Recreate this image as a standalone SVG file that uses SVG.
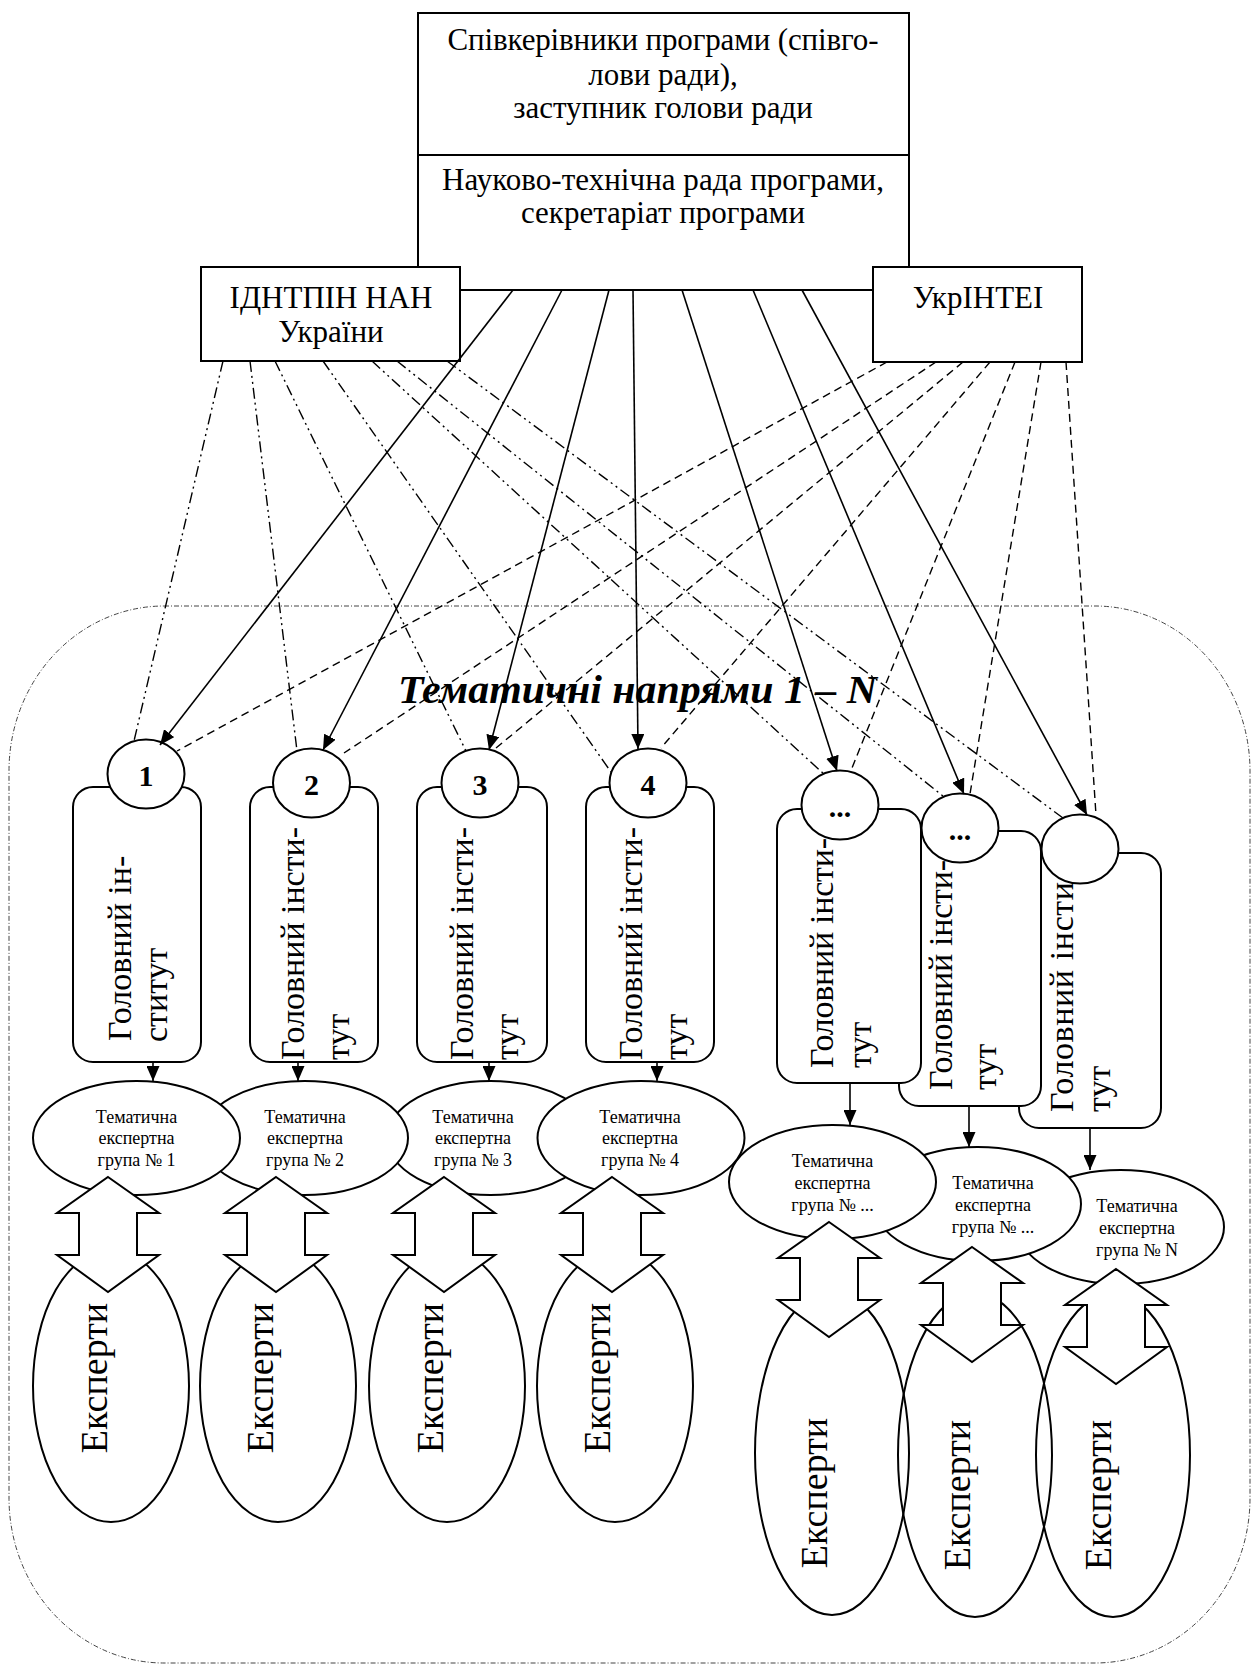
<svg xmlns="http://www.w3.org/2000/svg" width="1252" height="1667" viewBox="0 0 1252 1667">
<defs>
<marker id="ah" markerUnits="userSpaceOnUse" markerWidth="15" markerHeight="13" refX="15" refY="6.5" orient="auto">
<path d="M0,0 L15,6.5 L0,13 z" fill="#000"/>
</marker>
<style>
.t{font-family:"Liberation Serif","Times New Roman",serif;fill:#000}
.bx{fill:#fff;stroke:#000;stroke-width:2}
.el{fill:#fff;stroke:#000;stroke-width:2}
.ex{fill:none;stroke:#000;stroke-width:2}
.da{fill:#fff;stroke:#000;stroke-width:2;stroke-linejoin:miter}
.sol{fill:none;stroke:#000;stroke-width:1.6;marker-end:url(#ah)}
.ddt{fill:none;stroke:#000;stroke-width:1.4;stroke-dasharray:11 4 2 4 2 4}
.dsh{fill:none;stroke:#000;stroke-width:1.4;stroke-dasharray:8 5}
.top{font-size:31px;text-anchor:middle}
.grp{font-size:18px;text-anchor:middle}
.inst{font-size:34px}
.exp{font-size:38px;text-anchor:middle}
.num{font-size:30px;font-weight:bold;text-anchor:middle}
</style>
</defs>
<rect id="container" x="9" y="606" width="1241" height="1057" rx="155" ry="165" fill="none" stroke="#444" stroke-width="1" stroke-dasharray="5 2 1 2"/>
<text id="title" class="t" x="398" y="703" font-size="40" font-weight="bold" font-style="italic" textLength="479" lengthAdjust="spacingAndGlyphs">Тематичні напрями 1 – N</text>

<g id="head">
<rect class="bx" x="418" y="13" width="491" height="277"/>
<line x1="418" y1="155" x2="909" y2="155" stroke="#000" stroke-width="2"/>
<text class="t top" x="663" y="50" textLength="431" lengthAdjust="spacing">Співкерівники програми (співго-</text>
<text class="t top" x="663" y="85">лови ради),</text>
<text class="t top" x="663" y="118">заступник голови ради</text>
<text class="t top" x="663" y="190" textLength="442" lengthAdjust="spacing">Науково-технічна рада програми,</text>
<text class="t top" x="663" y="223">секретаріат програми</text>
</g>
<g id="idntpin">
<rect class="bx" x="201" y="267" width="259" height="94"/>
<text class="t top" x="331" y="308">ІДНТПІН НАН</text>
<text class="t top" x="331" y="342">України</text>
</g>
<g id="ukrintei">
<rect class="bx" x="873" y="267" width="209" height="95"/>
<text class="t top" x="978" y="308">УкрІНТЕІ</text>
</g>

<g id="inst7">
<rect class="bx" x="1019" y="853" width="142" height="275" rx="20"/>
<text class="t inst" transform="translate(1073,1112) rotate(-90)" textLength="230" lengthAdjust="spacing">Головний  інсти</text>
<text class="t inst" transform="translate(1110,1112) rotate(-90)">тут</text>
<ellipse class="el" cx="1080" cy="849" rx="38.5" ry="34.5"/>
</g>
<g id="inst6">
<rect class="bx" x="899" y="831" width="142" height="275" rx="20"/>
<text class="t inst" transform="translate(952,1090) rotate(-90)" textLength="230" lengthAdjust="spacing">Головний  інсти-</text>
<text class="t inst" transform="translate(996,1090) rotate(-90)">тут</text>
<ellipse class="el" cx="960" cy="828" rx="38.5" ry="34.5"/>
<text class="t num" x="960" y="840">...</text>
</g>
<g id="inst5">
<rect class="bx" x="777" y="809" width="144" height="274" rx="20"/>
<text class="t inst" transform="translate(833,1068) rotate(-90)" textLength="230" lengthAdjust="spacing">Головний  інсти-</text>
<text class="t inst" transform="translate(871,1068) rotate(-90)">тут</text>
<ellipse class="el" cx="840" cy="805" rx="38.5" ry="34.5"/>
<text class="t num" x="840" y="817">...</text>
</g>
<g id="inst1">
<rect class="bx" x="73" y="787" width="128" height="275" rx="20"/>
<text class="t inst" transform="translate(131,1041) rotate(-90)">Головний ін-</text>
<text class="t inst" transform="translate(167,1042) rotate(-90)">ститут</text>
<ellipse class="el" cx="146" cy="774" rx="38.5" ry="34.5"/>
<text class="t num" x="146" y="786">1</text>
</g>
<g id="inst2">
<rect class="bx" x="250" y="787" width="128" height="275" rx="20"/>
<text class="t inst" transform="translate(304,1060) rotate(-90)" textLength="233" lengthAdjust="spacing">Головний  інсти-</text>
<text class="t inst" transform="translate(349,1060) rotate(-90)">тут</text>
<ellipse class="el" cx="311.5" cy="783" rx="38.5" ry="34.5"/>
<text class="t num" x="311.5" y="795">2</text>
</g>
<g id="inst3">
<rect class="bx" x="417" y="787" width="130" height="275" rx="20"/>
<text class="t inst" transform="translate(473,1060) rotate(-90)" textLength="233" lengthAdjust="spacing">Головний  інсти-</text>
<text class="t inst" transform="translate(518,1060) rotate(-90)">тут</text>
<ellipse class="el" cx="480" cy="783" rx="38.5" ry="34.5"/>
<text class="t num" x="480" y="795">3</text>
</g>
<g id="inst4">
<rect class="bx" x="586" y="787" width="128" height="275" rx="20"/>
<text class="t inst" transform="translate(642,1060) rotate(-90)" textLength="233" lengthAdjust="spacing">Головний  інсти-</text>
<text class="t inst" transform="translate(687,1060) rotate(-90)">тут</text>
<ellipse class="el" cx="648" cy="783" rx="38.5" ry="34.5"/>
<text class="t num" x="648" y="795">4</text>
</g>

<g id="groups">
<g id="grp7"><ellipse class="el" cx="1120.5" cy="1227" rx="103.5" ry="57"/>
<text class="t grp" x="1137" y="1212">Тематична</text><text class="t grp" x="1137" y="1234">експертна</text><text class="t grp" x="1137" y="1256">група № N</text></g>
<g id="grp6"><ellipse class="el" cx="977.5" cy="1204" rx="103.5" ry="57"/>
<text class="t grp" x="993" y="1189">Тематична</text><text class="t grp" x="993" y="1211">експертна</text><text class="t grp" x="993" y="1233">група № ...</text></g>
<g id="grp5"><ellipse class="el" cx="832.5" cy="1182" rx="103.5" ry="57"/>
<text class="t grp" x="832.5" y="1167">Тематична</text><text class="t grp" x="832.5" y="1189">експертна</text><text class="t grp" x="832.5" y="1211">група № ...</text></g>
<g id="grp3"><ellipse class="el" cx="490.5" cy="1138" rx="103.5" ry="57"/>
<text class="t grp" x="473" y="1123">Тематична</text><text class="t grp" x="473" y="1144">експертна</text><text class="t grp" x="473" y="1166">група № 3</text></g>
<g id="grp4"><ellipse class="el" cx="641" cy="1138" rx="103.5" ry="57"/>
<text class="t grp" x="640" y="1123">Тематична</text><text class="t grp" x="640" y="1144">експертна</text><text class="t grp" x="640" y="1166">група № 4</text></g>
<g id="grp2"><ellipse class="el" cx="304.5" cy="1138" rx="103.5" ry="57"/>
<text class="t grp" x="305" y="1123">Тематична</text><text class="t grp" x="305" y="1144">експертна</text><text class="t grp" x="305" y="1166">група № 2</text></g>
<g id="grp1"><ellipse class="el" cx="136.5" cy="1138" rx="103.5" ry="57"/>
<text class="t grp" x="136.5" y="1123">Тематична</text><text class="t grp" x="136.5" y="1144">експертна</text><text class="t grp" x="136.5" y="1166">група № 1</text></g>
</g>

<g id="experts">
<g id="exp1"><ellipse class="ex" cx="111" cy="1386" rx="78" ry="136"/><text class="t exp" transform="translate(107,1378) rotate(-90)">Експерти</text></g>
<g id="exp2"><ellipse class="ex" cx="278" cy="1386" rx="78" ry="136"/><text class="t exp" transform="translate(273,1378) rotate(-90)">Експерти</text></g>
<g id="exp3"><ellipse class="ex" cx="447" cy="1386" rx="78" ry="136"/><text class="t exp" transform="translate(443,1378) rotate(-90)">Експерти</text></g>
<g id="exp4"><ellipse class="ex" cx="615" cy="1386" rx="78" ry="136"/><text class="t exp" transform="translate(610,1378) rotate(-90)">Експерти</text></g>
<g id="exp5"><ellipse class="ex" cx="832" cy="1453" rx="77" ry="162"/><text class="t exp" transform="translate(827,1493) rotate(-90)">Експерти</text></g>
<g id="exp6"><ellipse class="ex" cx="975" cy="1455" rx="77" ry="162"/><text class="t exp" transform="translate(970,1495) rotate(-90)">Експерти</text></g>
<g id="exp7"><ellipse class="ex" cx="1113" cy="1455" rx="77" ry="162"/><text class="t exp" transform="translate(1111,1495) rotate(-90)">Експерти</text></g>
</g>

<g id="connectors">
<g id="dbl-arrows">
<polygon class="da" points="108,1177 159,1213 137,1213 137,1255 159,1255 108,1292 57,1255 79,1255 79,1213 57,1213"/>
<polygon class="da" points="276,1177 327,1213 305,1213 305,1255 327,1255 276,1292 225,1255 247,1255 247,1213 225,1213"/>
<polygon class="da" points="444,1177 495,1213 473,1213 473,1255 495,1255 444,1292 393,1255 415,1255 415,1213 393,1213"/>
<polygon class="da" points="612,1177 663,1213 641,1213 641,1255 663,1255 612,1292 561,1255 583,1255 583,1213 561,1213"/>
<polygon class="da" points="829,1222 880,1258 858,1258 858,1300 880,1300 829,1337 778,1300 800,1300 800,1258 778,1258"/>
<polygon class="da" points="972,1247 1023,1283 1001,1283 1001,1325 1023,1325 972,1362 921,1325 943,1325 943,1283 921,1283"/>
<polygon class="da" points="1116,1269 1167,1305 1145,1305 1145,1347 1167,1347 1116,1384 1065,1347 1087,1347 1087,1305 1065,1305"/>
</g>
<g id="box-to-group">
<line class="sol" x1="153" y1="1062" x2="153" y2="1081"/>
<line class="sol" x1="298" y1="1062" x2="298" y2="1081"/>
<line class="sol" x1="489" y1="1062" x2="489" y2="1081"/>
<line class="sol" x1="657" y1="1062" x2="657" y2="1081"/>
<line class="sol" x1="850" y1="1083" x2="850" y2="1125"/>
<line class="sol" x1="969" y1="1106" x2="969" y2="1147"/>
<line class="sol" x1="1090" y1="1128" x2="1090" y2="1170"/>
</g>
<g id="from-council">
<line class="sol" x1="513" y1="290" x2="160" y2="745"/>
<line class="sol" x1="562" y1="290" x2="323" y2="750"/>
<line class="sol" x1="609" y1="290" x2="489" y2="750"/>
<line class="sol" x1="633" y1="290" x2="638" y2="749"/>
<line class="sol" x1="682" y1="290" x2="837" y2="771"/>
<line class="sol" x1="753" y1="290" x2="964" y2="794"/>
<line class="sol" x1="802" y1="290" x2="1087" y2="815"/>
</g>
<g id="from-idntpin">
<line class="ddt" x1="223" y1="361" x2="134" y2="741"/>
<line class="ddt" x1="250" y1="361" x2="297" y2="751"/>
<line class="ddt" x1="275" y1="361" x2="466" y2="751"/>
<line class="ddt" x1="323" y1="361" x2="611" y2="772"/>
<line class="ddt" x1="372" y1="361" x2="825" y2="775"/>
<line class="ddt" x1="397" y1="361" x2="943" y2="796"/>
<line class="ddt" x1="447" y1="361" x2="1063" y2="818"/>
</g>
<g id="from-ukrintei">
<line class="dsh" x1="887" y1="362" x2="177" y2="751"/>
<line class="dsh" x1="936" y1="362" x2="344" y2="753"/>
<line class="dsh" x1="963" y1="362" x2="496" y2="748"/>
<line class="dsh" x1="990" y1="362" x2="661" y2="748"/>
<line class="dsh" x1="1015" y1="362" x2="852" y2="768"/>
<line class="dsh" x1="1041" y1="362" x2="970" y2="794"/>
<line class="dsh" x1="1066" y1="362" x2="1096" y2="815"/>
</g>
</g>
</svg>
